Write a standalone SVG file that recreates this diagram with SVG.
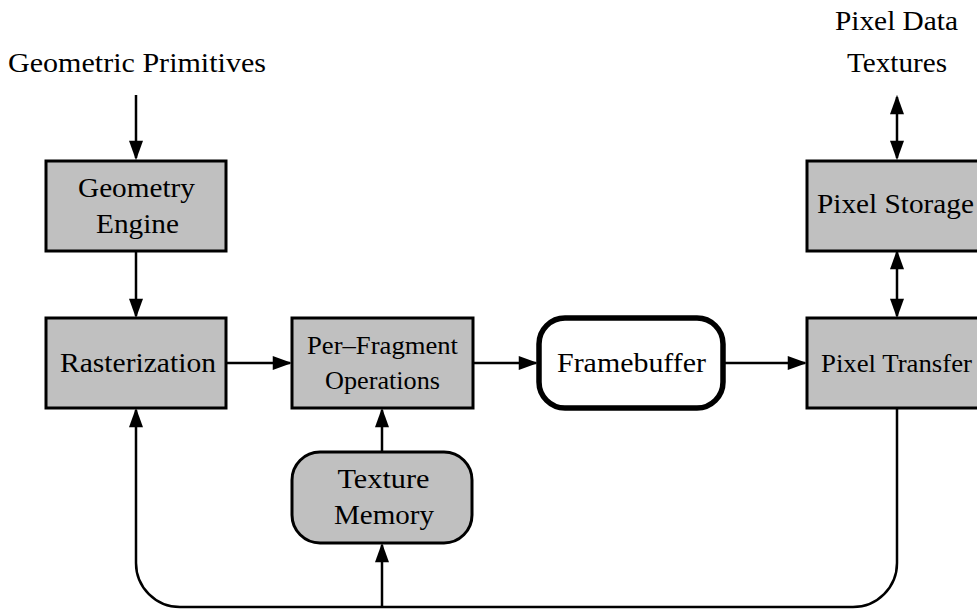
<svg xmlns="http://www.w3.org/2000/svg" width="977" height="610" viewBox="0 0 977 610">
<defs>
<marker id="ah" markerUnits="userSpaceOnUse" markerWidth="20" markerHeight="14" refX="16" refY="6.5" orient="auto-start-reverse" viewBox="0 0 18 13">
<path d="M0,0 L18,6.5 L0,13 z" fill="#000"/>
</marker>
<style>
.box{fill:#c0c0c0;stroke:#000;stroke-width:3}
.fb{fill:#fff;stroke:#000;stroke-width:5.5}
.t{font-family:"Liberation Serif","Times New Roman",serif;font-size:27px;fill:#000;text-anchor:middle}
.c{fill:none;stroke:#000;stroke-width:2.5}
.a{marker-end:url(#ah)}
.d{marker-start:url(#ah);marker-end:url(#ah)}
</style>
</defs>
<rect width="977" height="610" fill="#fff"/>
<g id="connectors">
<line class="c a" x1="136" y1="95" x2="136" y2="158"/>
<line class="c a" x1="136" y1="251" x2="136" y2="316"/>
<line class="c a" x1="227" y1="363" x2="290" y2="363"/>
<line class="c a" x1="474" y1="363" x2="536" y2="363"/>
<line class="c a" x1="725" y1="363" x2="805" y2="363"/>
<line class="c d" x1="897" y1="97" x2="897" y2="158"/>
<line class="c d" x1="897" y1="252" x2="897" y2="316"/>
<line class="c a" x1="382" y1="452" x2="382" y2="410"/>
<path class="c a" d="M897,408 L897,563 A44,44 0 0 1 853,607 L180,607 A44,44 0 0 1 136,563 L136,410"/>
<line class="c a" x1="382" y1="607" x2="382" y2="545"/>
</g>
<g id="geometric-primitives">
<text class="t" x="137" y="72" textLength="258" lengthAdjust="spacingAndGlyphs">Geometric Primitives</text>
</g>
<g id="pixel-data">
<text class="t" x="896.5" y="30" textLength="123" lengthAdjust="spacingAndGlyphs">Pixel Data</text>
<text class="t" x="897" y="72" textLength="100" lengthAdjust="spacingAndGlyphs">Textures</text>
</g>
<g id="geometry-engine">
<rect class="box" x="46" y="161" width="180" height="90"/>
<text class="t" x="136.5" y="197" textLength="117" lengthAdjust="spacingAndGlyphs">Geometry</text>
<text class="t" x="137.5" y="233" textLength="83" lengthAdjust="spacingAndGlyphs">Engine</text>
</g>
<g id="rasterization">
<rect class="box" x="46" y="318" width="180" height="90"/>
<text class="t" x="138" y="372" textLength="156" lengthAdjust="spacingAndGlyphs">Rasterization</text>
</g>
<g id="per-fragment">
<rect class="box" x="292" y="318" width="181" height="90"/>
<text class="t" x="382.5" y="354" textLength="151" lengthAdjust="spacingAndGlyphs" style="font-size:25px">Per–Fragment</text>
<text class="t" x="382.5" y="389" textLength="115" lengthAdjust="spacingAndGlyphs" style="font-size:25px">Operations</text>
</g>
<g id="framebuffer">
<rect class="fb" x="539" y="318" width="184" height="90" rx="26" ry="26"/>
<text class="t" x="631.5" y="372" textLength="149" lengthAdjust="spacingAndGlyphs">Framebuffer</text>
</g>
<g id="pixel-storage">
<rect class="box" x="807" y="161" width="180" height="90"/>
<text class="t" x="895.5" y="213" textLength="157" lengthAdjust="spacingAndGlyphs">Pixel Storage</text>
</g>
<g id="pixel-transfer">
<rect class="box" x="807" y="318" width="180" height="90"/>
<text class="t" x="896.5" y="372" textLength="151" lengthAdjust="spacingAndGlyphs" style="font-size:26px">Pixel Transfer</text>
</g>
<g id="texture-memory">
<rect class="box" x="292" y="452" width="180" height="91" rx="28" ry="28"/>
<text class="t" x="383.5" y="488" textLength="92" lengthAdjust="spacingAndGlyphs">Texture</text>
<text class="t" x="384" y="524" textLength="100" lengthAdjust="spacingAndGlyphs">Memory</text>
</g>
</svg>
